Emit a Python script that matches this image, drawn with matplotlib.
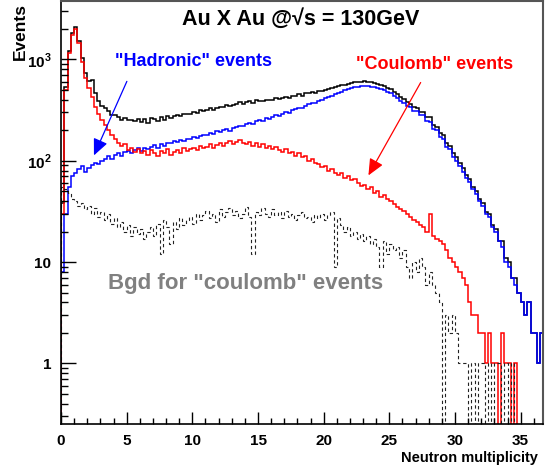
import numpy as np
import matplotlib
matplotlib.use("Agg")
import matplotlib.pyplot as plt
from matplotlib.ticker import FixedLocator, MultipleLocator, FuncFormatter, NullFormatter

# histogram contents, bin width 0.25
bin_width = 0.25

coulomb = [30, 500, 1150, 1750, 2000, 1450, 950, 650, 520, 430,
           340, 290, 250, 225, 200, 180, 165, 150, 140, 145,
           128, 135, 122, 130, 118, 126, 115, 128, 120, 112,
           125, 118, 130, 115, 122, 128, 118, 132, 125, 130,
           135, 128, 140, 132, 138, 145, 135, 142, 150, 140,
           148, 155, 145, 152, 160, 148, 145, 152, 140, 148,
           138, 145, 135, 140, 130, 138, 128, 122, 130, 118,
           122, 112, 118, 108, 112, 100, 104, 95, 92, 86,
           88, 80, 82, 76, 72, 75, 68, 70, 64, 66,
           60, 56, 58, 52, 55, 48, 50, 44, 46, 42,
           40, 37, 35, 33, 32, 30, 28, 26, 25, 23,
           22, 20, 30, 18, 17, 16, 15, 13, 11, 10,
           9, 8, 7, 6, 4, 3, 3, 2, 2, 1,
           2, 1, 1, 0, 2, 1, 1, 0, 1, 0,
           0, 0, 0, 0, 0, 0, 0, 0]

hadronic = [8, 30, 55, 70, 76, 82, 88, 78, 84, 90,
            95, 92, 100, 105, 112, 104, 115, 118, 112, 122,
            125, 118, 128, 132, 126, 135, 130, 138, 142, 135,
            145, 140, 150, 148, 155, 152, 160, 158, 165, 162,
            170, 168, 175, 180, 178, 188, 185, 195, 192, 200,
            205, 198, 212, 215, 222, 218, 230, 238, 232, 245,
            250, 248, 262, 258, 270, 282, 275, 290, 300, 295,
            315, 325, 335, 330, 350, 362, 375, 370, 392, 400,
            415, 425, 440, 452, 470, 480, 495, 505, 520, 530,
            540, 545, 550, 548, 540, 535, 525, 512, 500, 478,
            468, 440, 420, 392, 372, 350, 338, 310, 308, 282,
            280, 248, 242, 205, 200, 170, 165, 138, 130, 108,
            100, 88, 78, 67, 62, 52, 47, 40, 36, 30,
            28, 22, 20, 16, 14, 10, 9, 7, 6, 5,
            4, 3, 4, 2, 2, 1, 2, 0]

total = [38, 530, 1220, 1820, 2070, 1530, 1040, 730, 610, 630,
         470, 390, 350, 330, 310, 285, 280, 268, 255, 265,
         250, 255, 248, 260, 242, 258, 238, 262, 258, 245,
         268, 255, 278, 262, 275, 282, 275, 290, 288, 292,
         302, 295, 315, 310, 318, 330, 320, 335, 342, 338,
         352, 350, 358, 365, 382, 365, 378, 390, 372, 395,
         388, 392, 398, 400, 400, 420, 403, 412, 430, 415,
         438, 435, 455, 440, 462, 462, 478, 465, 485, 486,
         503, 505, 522, 528, 542, 555, 563, 575, 584, 596,
         600, 601, 608, 600, 595, 583, 573, 558, 544, 520,
         508, 477, 455, 425, 404, 380, 366, 336, 333, 305,
         302, 268, 272, 223, 217, 186, 180, 151, 141, 118,
         109, 96, 85, 73, 66, 55, 50, 42, 38, 31,
         30, 23, 21, 16, 16, 11, 10, 7, 7, 5,
         4, 3, 4, 2, 2, 1, 2, 0]

bgd = [55, 52, 48, 42, 40, 36, 38, 33, 36, 30,
       34, 28, 31, 26, 30, 24, 27, 22, 25, 20,
       23, 18, 22, 19, 21, 17, 20, 22, 18, 24,
       12, 26, 22, 15, 25, 21, 27, 23, 26, 28,
       24, 30, 26, 29, 32, 27, 30, 25, 33, 28,
       31, 34, 29, 32, 27, 30, 35, 28, 12, 31,
       29, 34, 30, 28, 33, 29, 31, 27, 32, 28,
       30, 26, 29, 31, 27, 28, 25, 29, 27, 30,
       26, 29, 31, 9, 27, 23, 20, 22, 18, 20,
       17, 19, 16, 18, 15, 17, 14, 9, 16, 12,
       15, 13, 14, 11, 13, 9, 7, 10, 8, 11,
       9, 6, 8, 6, 5, 4, 0, 3, 2, 3,
       2, 1, 1, 1, 0, 1, 0, 1, 1, 0,
       1, 0, 1, 1, 0, 1, 0, 1, 0, 0,
       0, 0, 0, 0, 0, 0, 0, 0]

plt.rcParams["font.family"] = ["Liberation Sans", "DejaVu Sans"]
plt.rcParams["font.weight"] = "bold"
plt.rcParams["mathtext.fontset"] = "custom"
plt.rcParams["mathtext.rm"] = "Liberation Sans:bold"
plt.rcParams["mathtext.bf"] = "Liberation Sans:bold"

fig = plt.figure(figsize=(5.47, 4.69), dpi=100)
ax = fig.add_axes([61 / 547, 45 / 469, 482 / 547, 423 / 469])

edges = np.arange(len(coulomb) + 1) * bin_width
floor = 0.01  # empty bins drop to the bottom like ROOT does
for vals, color, ls, lw in [(total, "black", "-", 1.1),
                            (hadronic, "blue", "-", 1.1),
                            (coulomb, "red", "-", 1.1),
                            (bgd, "#222222", (0, (3, 2.5)), 0.8)]:
    v = np.clip(np.array(vals, dtype=float), floor, None)
    ax.stairs(v, edges, baseline=floor, color=color, linestyle=ls, linewidth=lw)

ax.set_yscale("log")
ax.set_xlim(0, 36.7)
ax.set_ylim(0.252, 3770)

# ticks inside, ROOT style
ax.xaxis.set_major_locator(MultipleLocator(5))
ax.xaxis.set_minor_locator(MultipleLocator(1))
ax.yaxis.set_major_locator(FixedLocator([1, 10, 100, 1000]))
ax.yaxis.set_minor_locator(FixedLocator([m * 10.0 ** e for e in range(-1, 4) for m in range(2, 10)]))
ax.yaxis.set_minor_formatter(NullFormatter())
ylabels = {1: "1", 10: "10", 100: "$10^{2}$", 1000: "$10^{3}$"}
ax.yaxis.set_major_formatter(FuncFormatter(lambda v, p: ylabels.get(int(round(v)), "")))
ax.tick_params(axis="both", which="both", direction="in", top=False, right=False, labelsize=11)
ax.tick_params(axis="y", which="major", length=11, width=1, pad=7)
ax.tick_params(axis="y", which="minor", length=5, width=1)
ax.tick_params(axis="x", which="major", length=9, width=1, pad=7)
ax.tick_params(axis="x", which="minor", length=4.5, width=1)
for side in ["left", "bottom"]:
    ax.spines[side].set_linewidth(1.2)
for side in ["top", "right"]:
    ax.spines[side].set_color("#555555")
    ax.spines[side].set_linewidth(1.5)

ax.text(0.498, 0.957, "Au X Au @\u221as = 130GeV", transform=ax.transAxes,
        ha="center", va="center", fontsize=15.5, fontweight="bold")
ax.text(0.274, 0.856, "\"Hadronic\" events", transform=ax.transAxes,
        ha="center", va="center", fontsize=13, fontweight="bold", color="blue")
ax.text(0.774, 0.849, "\"Coulomb\" events", transform=ax.transAxes,
        ha="center", va="center", fontsize=13, fontweight="bold", color="red")
ax.text(0.382, 0.333, "Bgd for \"coulomb\" events", transform=ax.transAxes,
        ha="center", va="center", fontsize=16, fontweight="bold", color="#808080")

ax.annotate("", xy=(0.066, 0.629), xytext=(0.139, 0.816), xycoords="axes fraction",
            arrowprops=dict(arrowstyle="-|>,head_length=1.0,head_width=0.45", color="blue", lw=0.9))
ax.annotate("", xy=(0.635, 0.582), xytext=(0.749, 0.813), xycoords="axes fraction",
            arrowprops=dict(arrowstyle="-|>,head_length=1.0,head_width=0.45", color="red", lw=0.9))

fig.text(0.038, 0.932, "Events", rotation=90, ha="center", va="center", fontsize=12.5, fontweight="bold")
fig.text(0.984, 0.023, "Neutron multiplicity", ha="right", va="center", fontsize=10.5, fontweight="bold")

fig.savefig("out.png", dpi=100)
